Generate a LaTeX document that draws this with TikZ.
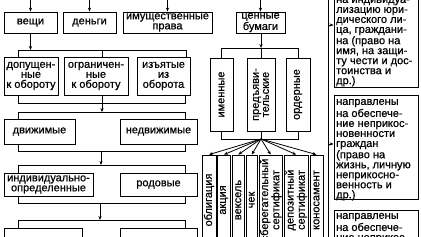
\documentclass[tikz,border=0pt]{standalone}
\usepackage{fontspec}
\setmainfont{Liberation Sans}[FakeBold=0.6]
\usetikzlibrary{arrows.meta}
\newcommand\dfont{\fontsize{11}{10}\selectfont}
\begin{document}
\begin{tikzpicture}[x=1pt,y=-1pt,
  box/.style={draw, line width=0.8pt, inner sep=0pt, align=center, font=\dfont},
  vtext/.style={rotate=90, inner sep=0pt, align=center, font=\dfont},
  rtext/.style={inner sep=0pt, align=left, font=\dfont, anchor=north west},
  ln/.style={line width=0.8pt},
  arr/.style={line width=0.8pt, -{Stealth[length=4pt,width=3.2pt]}}]
\useasboundingbox (0,0) rectangle (421,237);
\fill[white] (0,0) rectangle (421,237);
\clip (0,0) rectangle (421,237);

% row 1
\node[box, minimum width=53, minimum height=21] (veshchi) at (30.5,22.5) {вещи};
\node[box, minimum width=53, minimum height=21] (dengi) at (89.5,22.5) {деньги};
\node[box, minimum width=89, minimum height=21] (imush) at (167.5,22.5) {имущественные\\права};
\node[box, minimum width=49, minimum height=21] (cennye) at (260.5,22.5) {ценные\\бумаги};
\coordinate (top) at (0,-4);
\foreach \n in {veshchi,dengi,imush,cennye}
  \draw[arr] (\n.north |- top) -- (\n.north);

% row 2
\node[box, minimum width=54, minimum height=38] (dop) at (31,76) {допущен-\\ные\\к обороту};
\node[box, minimum width=64, minimum height=38] (ogr) at (96,76) {ограничен-\\ные\\к обороту};
\node[box, minimum width=53, minimum height=38] (izyat) at (163.5,76) {изъятые\\из\\оборота};

% row 3
\node[box, minimum width=71, minimum height=25] (dvizh) at (39.5,131.5) {движимые};
\node[box, minimum width=77, minimum height=25] (nedv) at (158.5,131.5) {недвижимые};

% row 4
\node[box, minimum width=89, minimum height=23] (indiv) at (48.5,184.5) {индивидуально-\\определенные};
\node[box, minimum width=77, minimum height=23] (rod) at (158.5,184.5) {родовые};

% row 5
\node[box, minimum width=78, minimum height=32] (low1) at (43,244) {};
\node[box, minimum width=77, minimum height=32] (low2) at (158.5,244) {};

% buses left
\coordinate (b1L) at (18,50); \coordinate (b1M) at (102,50); \coordinate (b1R) at (186,50);
\draw[arr] (veshchi.south) -- (veshchi.south |- b1L);
\draw[ln] (b1L |- dop.north) -- (b1L) -- (b1R) -- (b1R |- izyat.north);
\draw[ln] (b1M) -- (b1M |- ogr.north);

\coordinate (b2L) at (18,103); \coordinate (b2M) at (102,103); \coordinate (b2R) at (185,103);
\coordinate (b3L) at (18,112); \coordinate (b3M) at (102,112); \coordinate (b3R) at (185,112);
\draw[ln] (dop.south -| b2L) -- (b2L) -- (b2R) -- (izyat.south -| b2R);
\draw[ln] (ogr.south -| b2M) -- (b2M);
\draw[arr] (b2M) -- (b3M);
\draw[ln] (dvizh.north -| b3L) -- (b3L) -- (b3R) -- (nedv.north -| b3R);

\coordinate (b4L) at (18,151); \coordinate (b4M) at (101,151); \coordinate (b4R) at (185,151);
\coordinate (b5L) at (18,165); \coordinate (b5M) at (101,165); \coordinate (b5R) at (185,165);
\draw[ln] (dvizh.south -| b4L) -- (b4L) -- (b4R) -- (nedv.south -| b4R);
\draw[arr] (b4M) -- (b5M);
\draw[ln] (indiv.north -| b5L) -- (b5L) -- (b5R) -- (rod.north -| b5R);

\coordinate (b6L) at (18,203); \coordinate (b6M) at (100,203); \coordinate (b6R) at (185,203);
\coordinate (b7L) at (18,220); \coordinate (b7M) at (100,220); \coordinate (b7R) at (185,220);
\draw[ln] (indiv.south -| b6L) -- (b6L) -- (b6R) -- (rod.south -| b6R);
\draw[arr] (b6M) -- (b7M);
\draw[ln] (low1.north -| b7L) -- (b7L) -- (b7R) -- (low2.north -| b7R);

% securities
\node[box, minimum width=23, minimum height=73] (imen) at (221.5,94.5) {};
\node[box, minimum width=28, minimum height=73] (pred) at (261,94.5) {};
\node[box, minimum width=24, minimum height=73] (order) at (298,94.5) {};
\node[vtext] (imenT) at (imen.center) {именные};
\node[vtext] (predT) at (pred.center) {предъяви-\\тельские};
\node[vtext] (orderT) at (order.center) {ордерные};

\coordinate (c1L) at (221.5,48); \coordinate (c1M) at (261,48); \coordinate (c1R) at (298,48);
\draw[arr] (cennye.south -| c1M) -- (c1M);
\draw[ln] (imen.north) -- (c1L) -- (c1R) -- (order.north);
\draw[ln] (c1M) -- (pred.north);

\coordinate (c2L) at (221.5,139); \coordinate (c2M) at (261,139); \coordinate (c2R) at (298,139);
\draw[ln] (imen.south) -- (c2L) -- (c2R) -- (order.south);
\draw[ln] (pred.south) -- (c2M);

% bottom securities
\node[box, minimum width=14, minimum height=95] (obl) at (209,202.5) {};
\node[box, minimum width=13, minimum height=95] (akc) at (224,202.5) {};
\node[box, minimum width=12.5, minimum height=95] (veks) at (238.25,202.5) {};
\node[box, minimum width=11.5, minimum height=95] (chek) at (251.75,202.5) {};
\node[box, minimum width=23.5, minimum height=95] (sber) at (270.75,202.5) {};
\node[box, minimum width=24.5, minimum height=95] (depo) at (296.25,202.5) {};
\node[box, minimum width=13, minimum height=95] (kono) at (316.5,202.5) {};
\node[vtext] (oblT) at (209,200) {облигация};
\node[vtext] (akcT) at (224,200) {акция};
\node[vtext] (veksT) at (238.25,200) {вексель};
\node[vtext] (chekT) at (251.75,200) {чек};
\node[vtext] (sberT) at (270.75,200) {сберегательный\\сертификат};
\node[vtext] (depoT) at (296.25,200) {депозитный\\сертификат};
\node[vtext] (konoT) at (316.5,200) {коносамент};
\foreach \n in {obl,akc,veks,chek,sber,depo,kono}
  \draw[arr] (c2M) -- (\n.north);

% right column
\coordinate (vt) at (328,-4); \coordinate (vb) at (328,245);
\draw[ln] (vt) -- (vb);
\node[box, minimum width=84, minimum height=107] (r1) at (376,33.5) {};
\node[box, minimum width=84, minimum height=104] (r2) at (376,147) {};
\node[box, minimum width=84, minimum height=50] (r3) at (376,235) {};
\coordinate (r1a) at (0,25); \coordinate (r2a) at (0,144);
\draw[arr] (vt |- r1a) -- (r1.west |- r1a);
\draw[arr] (vt |- r2a) -- (r2.west |- r2a);
\node[rtext] (r1t) at (336,-4.3) {\strut на индивидуа-\\лизацию юри-\\дического ли-\\ца, граждани-\\на (право на\\имя, на защи-\\ту чести и дос-\\тоинства и\\др.)};
\node[rtext] (r2t) at (336,97.7) {\strut направлены\\на обеспече-\\ние неприкос-\\новенности\\граждан\\(право на\\жизнь, личную\\неприкосно-\\венность и\\др.)};
\node[rtext] (r3t) at (336,211.7) {\strut направлены\\на обеспече-\\ние неприкос-};
\end{tikzpicture}
\end{document}
